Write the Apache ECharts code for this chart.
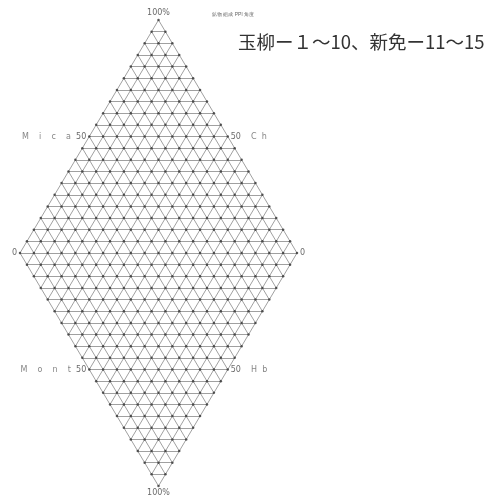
<!DOCTYPE html>
<html>
<head>
<meta charset="utf-8">
<script src="https://cdn.jsdelivr.net/npm/echarts@6/dist/echarts.min.js"></script>
<style>
  html, body { margin: 0; background: #fff; }
  #chart { width: 498px; height: 496px; }
</style>
</head>
<body>
<div id="chart"></div>
<script>
// diamond half size in 5% steps (0% .. 100% = 0 .. 20 steps)
var steps = [0, 1, 2, 3, 4, 5, 6, 7, 8, 9, 10, 11, 12, 13, 14, 15, 16, 17, 18, 19, 20]
var N = 20
var vertexLabels = ['100%', '100%', '0', '0']   // top, bottom, left, right
var midLabel = '50'
var upperNames = ['M    i    c    a', 'C  h']
var lowerNames = ['M    o    n    t', 'H  b']
var titleText = '玉柳ー１～10、新免ー11～15'

var gridLines = []
// horizontal lines
steps.forEach(function (s) {
  [s, -s].forEach(function (k, i) {
    if (i === 1 && s === 0) return
    var half = N - Math.abs(k)
    if (half > 0) gridLines.push({ coords: [[-half, k], [half, k]] })
  })
})
// diagonal lines, both directions
steps.forEach(function (s) {
  if (s % 2 !== 0) return
  [s, -s].forEach(function (c, i) {
    if (i === 1 && s === 0) return
    gridLines.push({ coords: [[(-N - c) / 2, (c - N) / 2], [(N - c) / 2, (N + c) / 2]] })
    gridLines.push({ coords: [[(N + c) / 2, (c - N) / 2], [(c - N) / 2, (c + N) / 2]] })
  })
})

// intersection dots
var dots = []
for (var y = -N; y <= N; y++) {
  var h = N - Math.abs(y)
  for (var x = -h; x <= h; x += 2) dots.push([x, y])
}

var labelData = [
  { value: [0, N], label: { position: 'top', formatter: vertexLabels[0] } },
  { value: [0, -N], label: { position: 'bottom', formatter: vertexLabels[1] } },
  { value: [-N, 0], label: { position: 'left', formatter: vertexLabels[2] } },
  { value: [N, 0], label: { position: 'right', formatter: vertexLabels[3] } },
  { value: [-N / 2, N / 2], label: { position: 'left', formatter: '{n|' + upperNames[0] + '}  ' + midLabel } },
  { value: [N / 2, N / 2], label: { position: 'right', formatter: midLabel + '    {n|' + upperNames[1] + '}' } },
  { value: [-N / 2, -N / 2], label: { position: 'left', formatter: '{n|' + lowerNames[0] + '}  ' + midLabel } },
  { value: [N / 2, -N / 2], label: { position: 'right', formatter: midLabel + '    {n|' + lowerNames[1] + '}' } }
]

var chart = echarts.init(document.getElementById('chart'))
chart.setOption({
  animation: false,
  title: {
    text: titleText,
    left: 233,
    top: 28,
    textStyle: { fontSize: 18.5, fontWeight: 'normal', color: '#333', fontFamily: 'Noto Sans CJK JP' }
  },
  graphic: [{
    type: 'text',
    left: 212,
    top: 12,
    style: { text: '鉱物 組成 PPl 角度', fontSize: 5, fill: '#666' }
  }],
  grid: { left: 20, top: 20, width: 277, height: 466 },
  xAxis: { type: 'value', min: -N, max: N, show: false },
  yAxis: { type: 'value', min: -N, max: N, show: false },
  series: [
    {
      type: 'lines',
      coordinateSystem: 'cartesian2d',
      data: gridLines,
      lineStyle: { color: '#a0a0a0', width: 1, opacity: 1 },
      silent: true
    },
    {
      type: 'scatter',
      data: dots,
      symbolSize: 2.5,
      itemStyle: { color: '#333' },
      silent: true
    },
    {
      type: 'scatter',
      data: labelData,
      symbolSize: 0,
      label: {
        show: true,
        distance: 3,
        fontSize: 8,
        color: '#444',
        fontFamily: 'DejaVu Sans',
        rich: { n: { fontSize: 8, color: '#666', fontFamily: 'DejaVu Sans' } }
      },
      silent: true
    }
  ]
})
</script>
</body>
</html>
